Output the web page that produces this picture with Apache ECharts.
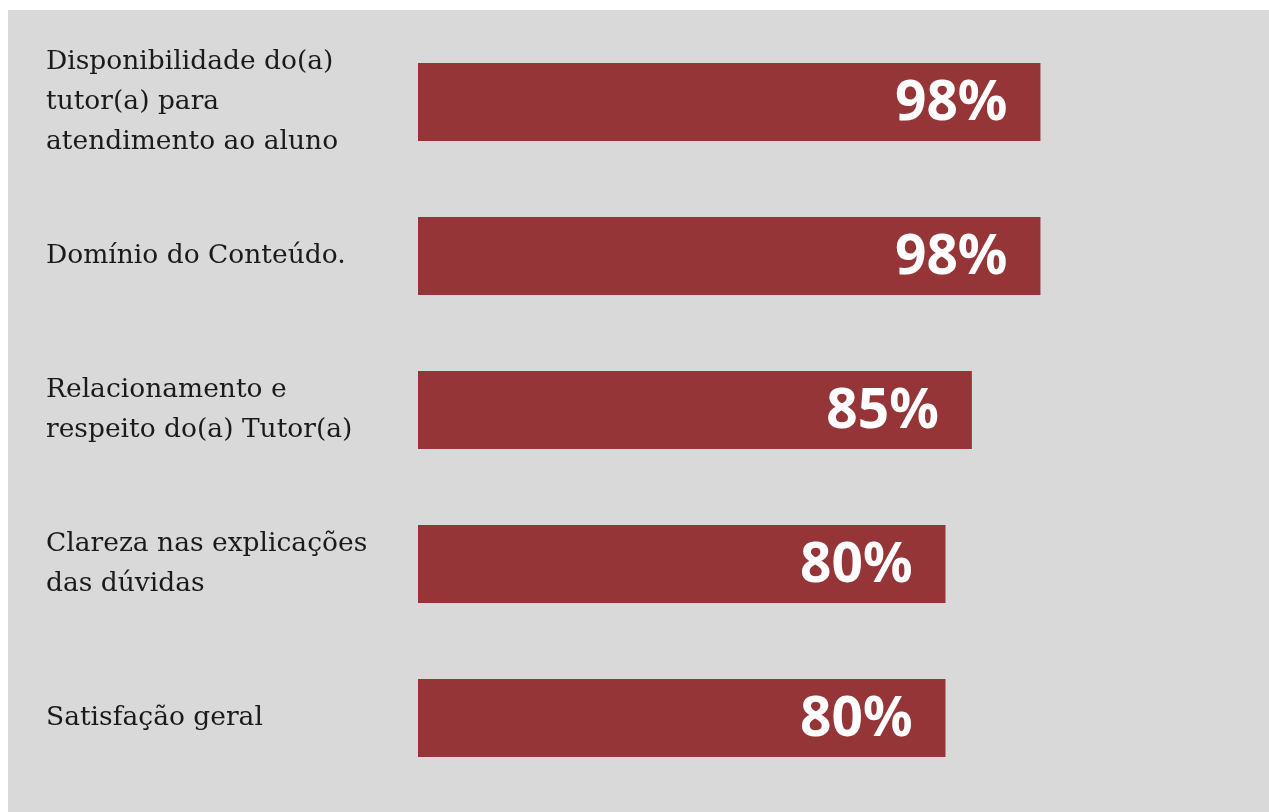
<!DOCTYPE html>
<html>
<head>
<meta charset="utf-8">
<script src="https://cdn.jsdelivr.net/npm/echarts@6/dist/echarts.min.js"></script>
<style>
  html, body { margin: 0; padding: 0; background: #ffffff; }
  #chart { position: absolute; left: 8px; top: 10px; width: 1261px; height: 802px; background: #d9d9d9; }
</style>
</head>
<body>
<div id="chart"></div>
<script>
const categories = [
  'Disponibilidade do(a)\ntutor(a) para\natendimento ao aluno',
  'Domínio do Conteúdo.',
  'Relacionamento e\nrespeito do(a) Tutor(a)',
  'Clareza nas explicações\ndas dúvidas',
  'Satisfação geral'
];
const values = [98, 98, 85, 80, 80];
const axisMin = -20;
const axisMax = 100;

const chart = echarts.init(document.getElementById('chart'), null, { renderer: 'canvas' });
chart.setOption({
  backgroundColor: '#d9d9d9',
  animation: false,
  grid: { left: 410, right: 218, top: 15, bottom: 17, containLabel: false },
  xAxis: { type: 'value', min: axisMin, max: axisMax, show: false },
  yAxis: {
    type: 'category',
    data: categories,
    inverse: true,
    axisLine: { show: false },
    axisTick: { show: false },
    splitLine: { show: false },
    axisLabel: {
      align: 'left',
      margin: 372,
      fontFamily: 'DejaVu Serif',
      fontSize: 26.5,
      lineHeight: 40,
      color: '#1a1a1a'
    }
  },
  series: [{
    type: 'custom',
    encode: { x: 0, y: 1 },
    data: categories.map((c, i) => [values[i], i]),
    renderItem: function (params, api) {
      const v = api.value(0);
      const idx = api.value(1);
      const start = api.coord([axisMin, idx]);
      const end = api.coord([v, idx]);
      const h = 78;
      return {
        type: 'group',
        children: [
          {
            type: 'rect',
            shape: { x: start[0], y: start[1] - h / 2, width: end[0] - start[0], height: h },
            style: { fill: '#963538' }
          },
          {
            type: 'text',
            x: end[0] - 33,
            y: end[1] + 2,
            style: {
              text: v + '%',
              fill: '#ffffff',
              fontFamily: 'Noto Sans',
              fontWeight: 700,
              fontSize: 55,
              align: 'right',
              verticalAlign: 'middle'
            }
          }
        ]
      };
    }
  }]
});
</script>
</body>
</html>
